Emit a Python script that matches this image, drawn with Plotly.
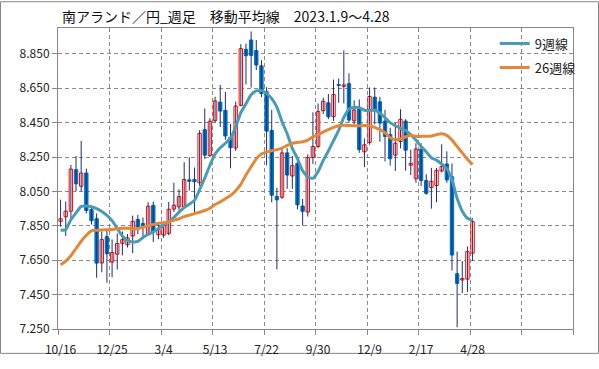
import plotly.graph_objects as go

# ---- data ----
week_index = list(range(81))
x_tick_pos = [0, 10, 20, 30, 40, 50, 60, 70, 80]
x_tick_labels = ["10/16", "12/25", "3/4", "5/13", "7/22", "9/30", "12/9", "2/17", "4/28"]
y_ticks = [7.25, 7.45, 7.65, 7.85, 8.05, 8.25, 8.45, 8.65, 8.85]

open_ = [7.876, 7.902, 7.935, 8.176, 8.080, 8.157, 7.944, 7.891, 7.634, 7.787,
         7.639, 7.685, 7.748, 7.740, 7.791, 7.887, 7.863, 7.798, 7.969, 7.798,
         7.796, 7.806, 7.947, 7.960, 7.959, 8.117, 8.119, 8.100, 8.409, 8.258,
         8.461, 8.569, 8.521, 8.365, 8.302, 8.550, 8.876, 8.930, 8.869, 8.780,
         8.630, 8.404, 8.021, 8.016, 8.274, 8.140, 8.213, 7.965, 7.930, 8.247,
         8.311, 8.519, 8.565, 8.484, 8.671, 8.661, 8.676, 8.460, 8.534, 8.280,
         8.335, 8.598, 8.571, 8.459, 8.380, 8.261, 8.340, 8.459, 8.202, 8.123,
         8.295, 8.113, 8.072, 8.084, 8.169, 8.209, 8.135, 7.571, 7.535, 7.540,
         7.691]
high = [8.002, 7.991, 8.204, 8.256, 8.343, 8.182, 7.959, 7.922, 7.817, 7.820,
        7.770, 7.806, 7.817, 7.802, 7.909, 7.913, 7.898, 7.987, 7.991, 7.861,
        7.875, 7.989, 8.100, 8.063, 8.220, 8.248, 8.189, 8.406, 8.532, 8.476,
        8.600, 8.669, 8.628, 8.443, 8.572, 8.906, 8.909, 8.980, 8.930, 8.813,
        8.656, 8.524, 8.071, 8.300, 8.302, 8.256, 8.247, 8.006, 8.265, 8.510,
        8.561, 8.595, 8.617, 8.700, 8.706, 8.870, 8.737, 8.580, 8.585, 8.358,
        8.654, 8.654, 8.600, 8.524, 8.420, 8.450, 8.528, 8.470, 8.293, 8.330,
        8.330, 8.150, 8.187, 8.187, 8.324, 8.283, 8.213, 7.700, 7.645, 7.730,
        7.894]
low = [7.845, 7.791, 7.894, 8.050, 8.050, 7.922, 7.857, 7.548, 7.580, 7.519,
       7.551, 7.596, 7.678, 7.724, 7.691, 7.802, 7.778, 7.795, 7.756, 7.772,
       7.780, 7.795, 7.930, 7.940, 7.950, 8.054, 7.924, 8.082, 8.239, 8.250,
       8.450, 8.424, 8.350, 8.184, 8.285, 8.545, 8.672, 8.654, 8.756, 8.598,
       8.202, 7.986, 7.596, 8.006, 8.065, 8.065, 7.945, 7.852, 7.904, 8.209,
       8.300, 8.500, 8.470, 8.460, 8.565, 8.561, 8.450, 8.440, 8.274, 8.191,
       8.321, 8.440, 8.339, 8.224, 8.200, 8.169, 8.300, 8.170, 8.145, 8.100,
       8.080, 8.030, 7.950, 7.987, 8.160, 8.100, 7.590, 7.260, 7.459, 7.465,
       7.645]
close = [7.891, 7.935, 8.180, 8.094, 8.157, 7.939, 7.880, 7.633, 7.770, 7.687,
         7.695, 7.747, 7.769, 7.780, 7.876, 7.843, 7.843, 7.964, 7.814, 7.830,
         7.855, 7.946, 7.970, 8.020, 8.119, 8.109, 8.106, 8.387, 8.261, 8.458,
         8.576, 8.517, 8.372, 8.304, 8.546, 8.880, 8.839, 8.841, 8.785, 8.619,
         8.400, 8.028, 8.001, 8.274, 8.145, 8.200, 7.972, 7.934, 8.247, 8.311,
         8.515, 8.574, 8.484, 8.613, 8.666, 8.669, 8.465, 8.524, 8.293, 8.321,
         8.602, 8.524, 8.447, 8.370, 8.240, 8.330, 8.469, 8.290, 8.213, 8.297,
         8.113, 8.039, 8.108, 8.172, 8.195, 8.117, 7.680, 7.515, 7.543, 7.700,
         7.874]
ma9 = [7.824, 7.829, 7.885, 7.925, 7.963, 7.965, 7.961, 7.950, 7.933, 7.911,
       7.880, 7.835, 7.790, 7.765, 7.756, 7.759, 7.782, 7.800, 7.813, 7.835,
       7.855, 7.875, 7.899, 7.929, 7.956, 7.976, 7.998, 8.060, 8.128, 8.202,
       8.267, 8.304, 8.330, 8.360, 8.424, 8.508, 8.560, 8.612, 8.634, 8.636,
       8.620, 8.589, 8.540, 8.455, 8.385, 8.300, 8.240, 8.170, 8.135, 8.126,
       8.165, 8.230, 8.285, 8.345, 8.405, 8.480, 8.528, 8.539, 8.537, 8.522,
       8.520, 8.522, 8.506, 8.478, 8.450, 8.432, 8.417, 8.404, 8.380, 8.348,
       8.311, 8.280, 8.246, 8.232, 8.209, 8.182, 8.117, 8.010, 7.935, 7.894,
       7.880]
ma26 = [7.624, 7.645, 7.676, 7.718, 7.760, 7.795, 7.820, 7.824, 7.826, 7.827,
        7.828, 7.833, 7.836, 7.836, 7.832, 7.834, 7.842, 7.850, 7.858, 7.865,
        7.868, 7.873, 7.882, 7.891, 7.903, 7.912, 7.921, 7.929, 7.939, 7.952,
        7.974, 7.989, 8.008, 8.026, 8.054, 8.091, 8.146, 8.193, 8.239, 8.267,
        8.280, 8.287, 8.293, 8.302, 8.317, 8.330, 8.335, 8.339, 8.348, 8.367,
        8.380, 8.395, 8.409, 8.422, 8.432, 8.435, 8.433, 8.431, 8.432, 8.433,
        8.432, 8.422, 8.409, 8.391, 8.362, 8.350, 8.355, 8.367, 8.376, 8.370,
        8.370, 8.370, 8.372, 8.380, 8.385, 8.376, 8.348, 8.311, 8.274, 8.237,
        8.206]

title_text = "南アランド／円_週足　移動平均線　2023.1.9～4.28"
ma9_name = "9週線"
ma26_name = "26週線"

# ---- styles ----
FONT = "Noto Sans CJK JP, Noto Sans, sans-serif"
UP_LINE = "#FF0000"
DOWN_FILL = "#0070C0"
WICK = "#1F2F66"
MA9_COLOR = "#4A9BB3"
MA26_COLOR = "#E0883C"
GRID = "#8A8A8A"
AXIS = "#868686"

# wicks
wx, wy = [], []
for i, lo, hi in zip(week_index, low, high):
    wx += [i, i, None]
    wy += [lo, hi, None]

up_x, up_base, up_h = [], [], []
dn_x, dn_base, dn_h = [], [], []
for i, o, c in zip(week_index, open_, close):
    if c >= o:
        up_x.append(i); up_base.append(o); up_h.append(max(c - o, 0.002))
    else:
        dn_x.append(i); dn_base.append(c); dn_h.append(max(o - c, 0.002))

fig = go.Figure()
fig.add_trace(go.Scatter(x=wx, y=wy, mode="lines", line=dict(color=WICK, width=1),
                         showlegend=False, hoverinfo="skip"))
fig.add_trace(go.Bar(x=up_x, y=up_h, base=up_base, width=0.66,
                     marker=dict(color="white", line=dict(color=UP_LINE, width=1)),
                     showlegend=False))
fig.add_trace(go.Bar(x=dn_x, y=dn_h, base=dn_base, width=0.66,
                     marker=dict(color=DOWN_FILL, line=dict(color=DOWN_FILL, width=1)),
                     showlegend=False))
fig.add_trace(go.Scatter(x=week_index, y=ma9, mode="lines", name=ma9_name, legendgroup="a",
                         line=dict(color=MA9_COLOR, width=3, shape="spline", smoothing=0.6)))
fig.add_trace(go.Scatter(x=week_index, y=ma26, mode="lines", name=ma26_name, legendgroup="b",
                         line=dict(color=MA26_COLOR, width=3, shape="spline", smoothing=0.6)))

L, R, T, B = 58, 26, 28, 26
W, H = 599, 369
pw, ph = W - L - R, H - T - B

fig.update_layout(
    width=W, height=H,
    margin=dict(l=L, r=R, t=T, b=B),
    paper_bgcolor="white", plot_bgcolor="white",
    barmode="overlay",
    font=dict(family=FONT, size=12, color="#222222"),
    title=dict(text=title_text, x=62 / W, xref="container", xanchor="left",
               y=1 - 17 / H, yref="container", yanchor="middle",
               font=dict(family=FONT, size=14, color="#111111")),
    legend=dict(x=0.848, y=0.998, xanchor="left", yanchor="top",
                bgcolor="rgba(0,0,0,0)", font=dict(family=FONT, size=13, color="#222222"),
                tracegroupgap=4, itemwidth=30),
    showlegend=True,
    shapes=[dict(type="rect", xref="paper", yref="paper",
                 x0=(0.5 - L) / pw, x1=(W - 0.5 - L) / pw,
                 y0=(H - B - (H - 0.5)) / ph, y1=(H - B - 0.5) / ph,
                 line=dict(color=AXIS, width=1), fillcolor="rgba(0,0,0,0)", layer="below")],
)

fig.update_xaxes(
    range=[-0.5, 99.5], tickmode="array", tickvals=x_tick_pos, ticktext=x_tick_labels,
    ticks="outside", ticklen=10, tickcolor="rgba(0,0,0,0)", showgrid=False, zeroline=False,
    showline=True, linecolor=AXIS, linewidth=1, mirror=True,
    tickfont=dict(family=FONT, size=12, color="#222222"),
    minor=dict(tickmode="linear", tick0=-0.5, dtick=10, ticks="outside", ticklen=5,
               tickcolor=AXIS, showgrid=True, gridcolor=GRID, griddash="4px,3px", gridwidth=1),
)
fig.update_yaxes(
    range=[7.25, 9.0], tickmode="array", tickvals=y_ticks, tickformat=".3f",
    ticks="outside", ticklen=5, tickcolor=AXIS, showgrid=True, gridcolor=GRID,
    griddash="4px,3px", gridwidth=1, zeroline=False,
    showline=True, linecolor=AXIS, linewidth=1, mirror=True,
    tickfont=dict(family=FONT, size=12, color="#222222"),
)

fig.write_html("out.html", include_plotlyjs=True, config={"displayModeBar": False},
               post_script="document.body.style.margin='0';document.body.style.overflow='hidden';")
